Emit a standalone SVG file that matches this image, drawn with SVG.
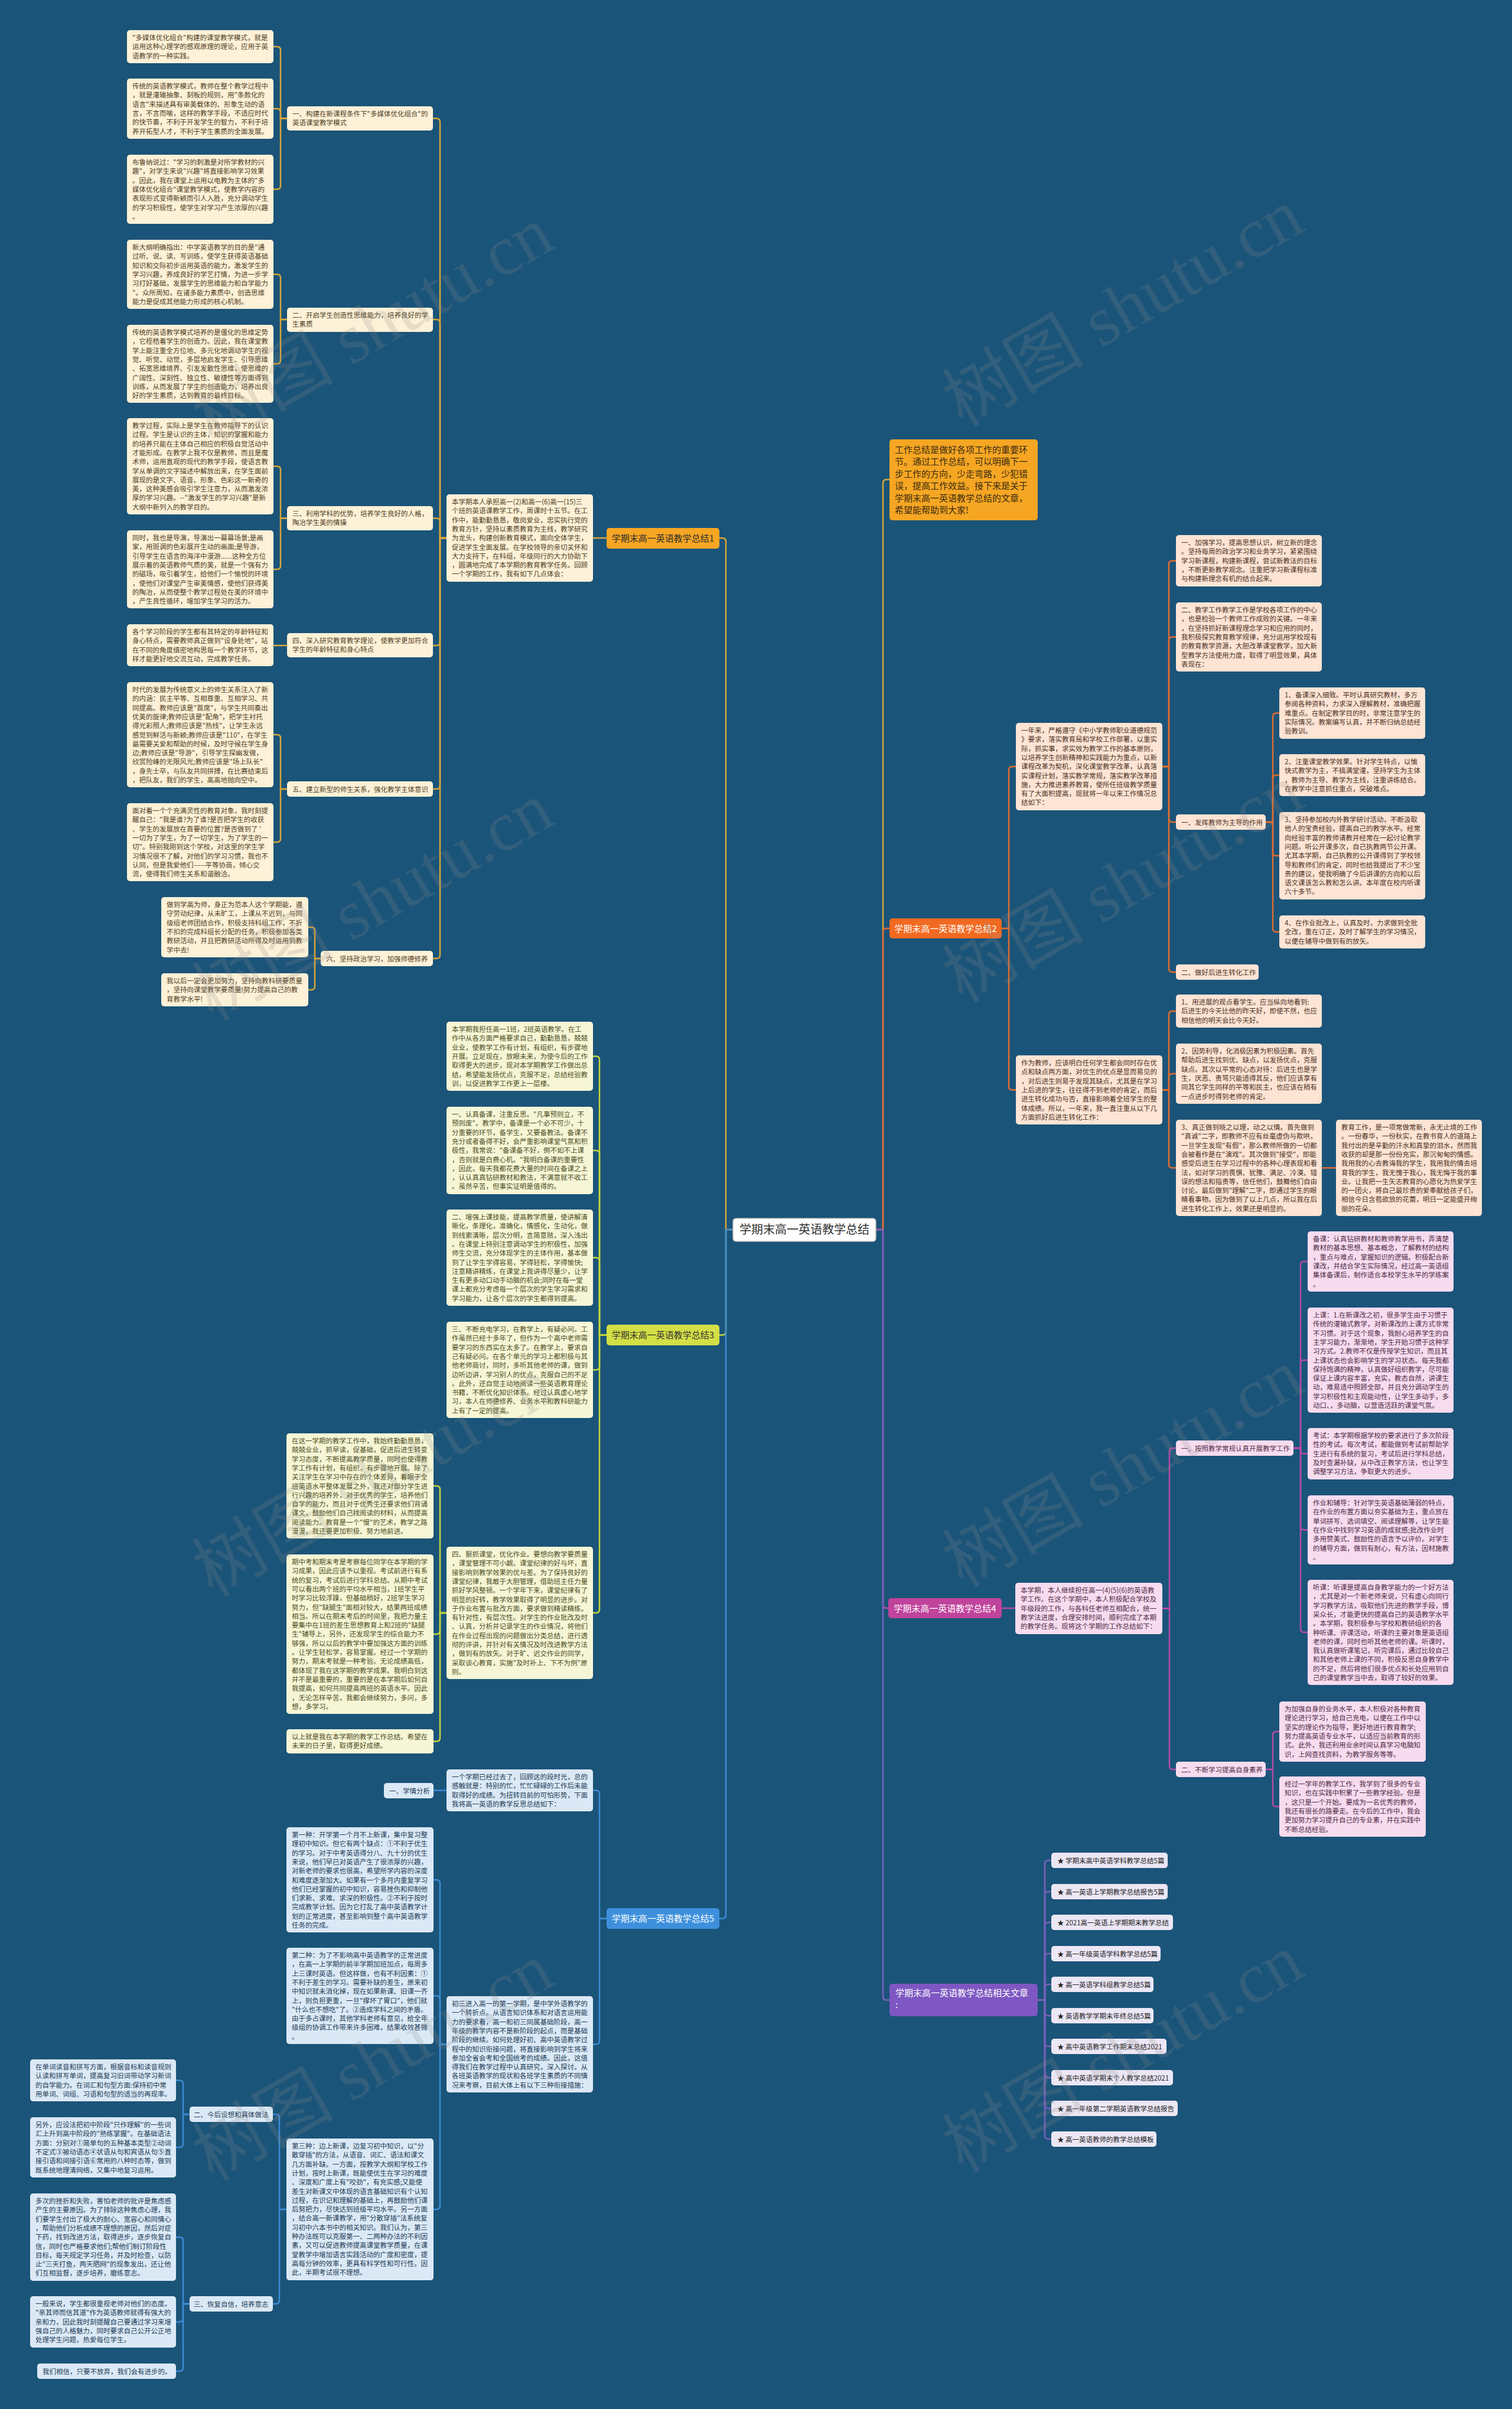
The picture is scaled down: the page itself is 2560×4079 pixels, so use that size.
<svg xmlns="http://www.w3.org/2000/svg" width="2560" height="4079" viewBox="0 0 2560 4079">
<style>
text{font-family:"Noto Sans CJK SC","Noto Sans",sans-serif;}
.s{font-size:11.5px}
.L{font-size:15px}
rect{rx:5px}
.cn path{fill:none;stroke-width:2.5;stroke-linecap:round}
.k1 path{stroke:#d9a638}.k2 path{stroke:#e26c30}.k3 path{stroke:#c4d83c}.k4 path{stroke:#b44ca6}.k5 path{stroke:#3d8bd6}.k6 path{stroke:#7b61bd}
.f1 rect{fill:#fdf1d7}.f1 text{fill:#51401f}
.f2 rect{fill:#fde4d4}.f2 text{fill:#4c3124}
.f3 rect{fill:#f6f6d6}.f3 text{fill:#4d4d22}
.f4 rect{fill:#f7dcef}.f4 text{fill:#4f2a45}
.f5 rect{fill:#dbe9f6}.f5 text{fill:#213b55}
.f6 rect{fill:#ece7f5}.f6 text{fill:#222}
.wm{font-family:"Liberation Serif","Noto Sans CJK SC",serif;font-size:120px;fill:#8c8c8c;opacity:0.2}
</style>
<rect x="0" y="0" width="2560" height="4079" fill="#1b5479" style="rx:0"/>

<g id="connectors" class="cn">
<g class="k1">
<path d="M1241 2082 H1229 V917 Q1229 911 1223 911 H1218"/>
<path d="M1027 911 H1004"/>
<path d="M756 911 H745 V206.5 Q745 200.5 739 200.5 H733"/>
<path d="M756 911 H745 V547 Q745 541 739 541 H733"/>
<path d="M756 911 H745 V883.5 Q745 877.5 739 877.5 H733"/>
<path d="M756 911 H745 V1087 Q745 1093 739 1093 H733"/>
<path d="M756 911 H745 V1330 Q745 1336 739 1336 H733"/>
<path d="M756 911 H745 V1617 Q745 1623 739 1623 H733"/>
<path d="M486 200.5 H475 V85 Q475 79 469 79 H463"/>
<path d="M486 200.5 H475 V190 Q475 184 469 184 H463"/>
<path d="M486 200.5 H475 V314.5 Q475 320.5 469 320.5 H463"/>
<path d="M486 541 H475 V470.5 Q475 464.5 469 464.5 H463"/>
<path d="M486 541 H475 V610 Q475 616 469 616 H463"/>
<path d="M486 877.5 H475 V795.5 Q475 789.5 469 789.5 H463"/>
<path d="M486 877.5 H475 V958 Q475 964 469 964 H463"/>
<path d="M486 1093 H463"/>
<path d="M486 1336 H475 V1250 Q475 1244 469 1244 H463"/>
<path d="M486 1336 H475 V1420 Q475 1426 469 1426 H463"/>
<path d="M543 1623 H533 V1576 Q533 1570 527 1570 H522"/>
<path d="M543 1623 H533 V1670 Q533 1676 527 1676 H522"/>
<path d="M1483 2082 H1495 V818 Q1495 812 1501 812 H1506"/>
</g>
<g class="k3">
<path d="M1241 2082 H1229 V2254.5 Q1229 2260.5 1223 2260.5 H1218"/>
<path d="M1027 2260.5 H1015 V1794.5 Q1015 1788.5 1009 1788.5 H1004"/>
<path d="M1027 2260.5 H1015 V1954 Q1015 1948 1009 1948 H1004"/>
<path d="M1027 2260.5 H1015 V2135.5 Q1015 2129.5 1009 2129.5 H1004"/>
<path d="M1027 2260.5 H1015 V2313.5 Q1015 2319.5 1009 2319.5 H1004"/>
<path d="M1027 2260.5 H1015 V2725 Q1015 2731 1009 2731 H1004"/>
<path d="M756 2731 H745 V2522 Q745 2516 739 2516 H734"/>
<path d="M756 2731 H745 V2761 Q745 2767 739 2767 H734"/>
<path d="M756 2731 H745 V2942.5 Q745 2948.5 739 2948.5 H734"/>
</g>
<g class="k5">
<path d="M1241 2082 H1229 V3242.5 Q1229 3248.5 1223 3248.5 H1218"/>
<path d="M1027 3248.5 H1015 V3037.5 Q1015 3031.5 1009 3031.5 H1004"/>
<path d="M1027 3248.5 H1015 V3455.5 Q1015 3461.5 1009 3461.5 H1004"/>
<path d="M756 3031.5 H734"/>
<path d="M756 3461.5 H745 V3189 Q745 3183 739 3183 H734"/>
<path d="M756 3461.5 H745 V3385.5 Q745 3379.5 739 3379.5 H734"/>
<path d="M756 3461.5 H745 V3735 Q745 3741 739 3741 H734"/>
<path d="M485 3741 H473 V3586 Q473 3580 467 3580 H462"/>
<path d="M485 3741 H473 V3895 Q473 3901 467 3901 H462"/>
<path d="M321 3580 H310 V3528.5 Q310 3522.5 304 3522.5 H298"/>
<path d="M321 3580 H310 V3630 Q310 3636 304 3636 H298"/>
<path d="M321 3901 H310 V3794 Q310 3788 304 3788 H298"/>
<path d="M321 3901 H310 V3925.5 Q310 3931.5 304 3931.5 H298"/>
<path d="M321 3901 H310 V4009 Q310 4015 304 4015 H298"/>
</g>
<g class="k2">
<path d="M1483 2082 H1495 V1578 Q1495 1572 1501 1572 H1506"/>
<path d="M1696 1572 H1708 V1304 Q1708 1298 1714 1298 H1720"/>
<path d="M1696 1572 H1708 V1839.5 Q1708 1845.5 1714 1845.5 H1720"/>
<path d="M1968 1298 H1979 V955.5 Q1979 949.5 1985 949.5 H1991"/>
<path d="M1968 1298 H1979 V1084.5 Q1979 1078.5 1985 1078.5 H1991"/>
<path d="M1968 1298 H1979 V1386 Q1979 1392 1985 1392 H1991"/>
<path d="M1968 1298 H1979 V1640 Q1979 1646 1985 1646 H1991"/>
<path d="M2143 1392 H2155 V1213.5 Q2155 1207.5 2161 1207.5 H2166"/>
<path d="M2143 1392 H2155 V1318.5 Q2155 1312.5 2161 1312.5 H2166"/>
<path d="M2143 1392 H2155 V1443 Q2155 1449 2161 1449 H2166"/>
<path d="M2143 1392 H2155 V1572 Q2155 1578 2161 1578 H2166"/>
<path d="M1968 1845.5 H1979 V1718 Q1979 1712 1985 1712 H1991"/>
<path d="M1968 1845.5 H1979 V1824 Q1979 1818 1985 1818 H1991"/>
<path d="M1968 1845.5 H1979 V1971.5 Q1979 1977.5 1985 1977.5 H1991"/>
<path d="M2238 1977.5 H2262"/>
</g>
<g class="k4">
<path d="M1483 2082 H1495 V2717 Q1495 2723 1501 2723 H1504"/>
<path d="M1696 2723 H1719"/>
<path d="M1968 2723.5 H1980 V2458 Q1980 2452 1986 2452 H1991"/>
<path d="M1968 2723.5 H1980 V2990 Q1980 2996 1986 2996 H1991"/>
<path d="M2190 2452 H2202 V2142 Q2202 2136 2208 2136 H2214"/>
<path d="M2190 2452 H2202 V2309 Q2202 2303 2208 2303 H2214"/>
<path d="M2190 2452 H2202 V2455.5 Q2202 2461.5 2208 2461.5 H2214"/>
<path d="M2190 2452 H2202 V2584.5 Q2202 2590.5 2208 2590.5 H2214"/>
<path d="M2190 2452 H2202 V2758 Q2202 2764 2208 2764 H2214"/>
<path d="M2143 2996 H2155 V2938 Q2155 2932 2161 2932 H2166"/>
<path d="M2143 2996 H2155 V3053 Q2155 3059 2161 3059 H2166"/>
</g>
<g class="k6">
<path d="M1483 2082 H1495 V3380.5 Q1495 3386.5 1501 3386.5 H1506"/>
<path d="M1757 3386.5 H1769 V3156 Q1769 3150 1775 3150 H1780"/>
<path d="M1757 3386.5 H1769 V3209 Q1769 3203 1775 3203 H1780"/>
<path d="M1757 3386.5 H1769 V3261 Q1769 3255 1775 3255 H1780"/>
<path d="M1757 3386.5 H1769 V3314 Q1769 3308 1775 3308 H1780"/>
<path d="M1757 3386.5 H1769 V3366 Q1769 3360 1775 3360 H1780"/>
<path d="M1757 3386.5 H1769 V3407 Q1769 3413 1775 3413 H1780"/>
<path d="M1757 3386.5 H1769 V3459 Q1769 3465 1775 3465 H1780"/>
<path d="M1757 3386.5 H1769 V3512 Q1769 3518 1775 3518 H1780"/>
<path d="M1757 3386.5 H1769 V3564 Q1769 3570 1775 3570 H1780"/>
<path d="M1757 3386.5 H1769 V3616 Q1769 3622 1775 3622 H1780"/>
</g>
</g>

<g id="center"><rect x="1241" y="2063" width="242" height="39" fill="#ffffff" stroke="#b9b9b9" stroke-width="1.5"/><text x="1362" y="2089" text-anchor="middle" style="font-size:20px" fill="#333">学期末高一英语教学总结</text></g>

<g id="intro"><rect x="1506" y="744" width="251" height="137" fill="#f6a623"/><text x="1515" y="767" class="L" fill="#3a2a10"><tspan x="1515">工作总结是做好各项工作的重要环</tspan><tspan x="1515" dy="20.4">节。通过工作总结，可以明确下一</tspan><tspan x="1515" dy="20.4">步工作的方向，少走弯路，少犯错</tspan><tspan x="1515" dy="20.4">误，提高工作效益。接下来是关于</tspan><tspan x="1515" dy="20.4">学期末高一英语教学总结的文章，</tspan><tspan x="1515" dy="20.4">希望能帮助到大家!</tspan></text></g>

<!-- Branch 1 -->
<g id="branch1"><rect x="1027" y="894" width="191" height="35" fill="#f6a623"/><text x="1122.5" y="917" class="L" text-anchor="middle" fill="#2b2b2b">学期末高一英语教学总结1</text></g>
<g id="b1-intro" class="f1"><rect x="756" y="837" width="248" height="148"/><text x="765" y="854" class="s"><tspan x="765">本学期本人承担高一(2)和高一(6)高一(15)三</tspan><tspan x="765" dy="15.3">个班的英语课教学工作，周课时十五节。在工</tspan><tspan x="765" dy="15.3">作中，能勤勤恳恳，敬岗爱业，忠实执行党的</tspan><tspan x="765" dy="15.3">教育方针，坚持以素质教育为主线，教学研究</tspan><tspan x="765" dy="15.3">为龙头，构建创新教育模式，面向全体学生，</tspan><tspan x="765" dy="15.3">促进学生全面发展。在学校领导的亲切关怀和</tspan><tspan x="765" dy="15.3">大力支持下，在科组，年级同行的大力协助下</tspan><tspan x="765" dy="15.3">，圆满地完成了本学期的教育教学任务。回顾</tspan><tspan x="765" dy="15.3">一个学期的工作，我有如下几点体会：</tspan></text></g>
<g id="b1-s1" class="f1"><rect x="486" y="180" width="247" height="41"/><text x="495" y="197" class="s"><tspan x="495">一、构建在新课程条件下"多媒体优化组合"的</tspan><tspan x="495" dy="15.3">英语课堂教学模式</tspan></text></g>
<g id="b1-s2" class="f1"><rect x="486" y="521" width="247" height="41"/><text x="495" y="538" class="s"><tspan x="495">二、开启学生创造性思维能力，培养良好的学</tspan><tspan x="495" dy="15.3">生素质</tspan></text></g>
<g id="b1-s3" class="f1"><rect x="486" y="857" width="247" height="41"/><text x="495" y="874" class="s"><tspan x="495">三、利用学科的优势，培养学生良好的人格，</tspan><tspan x="495" dy="15.3">陶冶学生美的情操</tspan></text></g>
<g id="b1-s4" class="f1"><rect x="486" y="1072" width="247" height="41"/><text x="495" y="1089" class="s"><tspan x="495">四、深入研究教育教学理论，使教学更加符合</tspan><tspan x="495" dy="15.3">学生的年龄特征和身心特点</tspan></text></g>
<g id="b1-s5" class="f1"><rect x="486" y="1323" width="247" height="26"/><text x="495" y="1340.5" class="s">五、建立新型的师生关系，强化教学主体意识</text></g>
<g id="b1-s6" class="f1"><rect x="543" y="1610" width="190" height="26"/><text x="552" y="1627.5" class="s">六、坚持政治学习，加强师德修养</text></g>
<g id="b1-l1" class="f1"><rect x="215" y="51" width="248" height="56"/><text x="224" y="68" class="s"><tspan x="224">"多媒体优化组合"构建的课堂教学模式，就是</tspan><tspan x="224" dy="15.3">运用这种心理学的感观原理的理论，应用于英</tspan><tspan x="224" dy="15.3">语教学的一种实践。</tspan></text></g>
<g id="b1-l2" class="f1"><rect x="215" y="133" width="248" height="102"/><text x="224" y="150" class="s"><tspan x="224">传统的英语教学模式，教师在整个教学过程中</tspan><tspan x="224" dy="15.3">，就是灌输抽象、刻板的规则，用"条款化的</tspan><tspan x="224" dy="15.3">语言"来描述具有审美载体的、形象生动的语</tspan><tspan x="224" dy="15.3">言，不言而喻，这样的教学手段，不适应时代</tspan><tspan x="224" dy="15.3">的快节奏，不利于开发学生的智力，不利于培</tspan><tspan x="224" dy="15.3">养开拓型人才，不利于学生素质的全面发展。</tspan></text></g>
<g id="b1-l3" class="f1"><rect x="215" y="262" width="248" height="117"/><text x="224" y="279" class="s"><tspan x="224">布鲁纳说过："学习的刺激是对所学教材的兴</tspan><tspan x="224" dy="15.3">趣"，对学生来说"兴趣"将直接影响学习效果</tspan><tspan x="224" dy="15.3">。因此，我在课堂上运用以电教为主体的"多</tspan><tspan x="224" dy="15.3">媒体优化组合"课堂教学模式，使教学内容的</tspan><tspan x="224" dy="15.3">表现形式变得新颖而引人入胜，充分调动学生</tspan><tspan x="224" dy="15.3">的学习积极性，使学生对学习产生浓厚的兴趣</tspan><tspan x="224" dy="15.3">。</tspan></text></g>
<g id="b1-l4" class="f1"><rect x="215" y="406" width="248" height="117"/><text x="224" y="423" class="s"><tspan x="224">新大纲明确指出：中学英语教学的目的是"通</tspan><tspan x="224" dy="15.3">过听、说、读、写训练，使学生获得英语基础</tspan><tspan x="224" dy="15.3">知识和交际初步运用英语的能力，激发学生的</tspan><tspan x="224" dy="15.3">学习兴趣，养成良好的学艺打情，为进一步学</tspan><tspan x="224" dy="15.3">习打好基础，发展学生的思维能力和自学能力</tspan><tspan x="224" dy="15.3">"。众所周知，在诸多能力素质中，创造思维</tspan><tspan x="224" dy="15.3">能力是促成其他能力形成的核心机制。</tspan></text></g>
<g id="b1-l5" class="f1"><rect x="215" y="550" width="248" height="132"/><text x="224" y="567" class="s"><tspan x="224">传统的英语教学模式培养的是僵化的思维定势</tspan><tspan x="224" dy="15.3">，它桎梏着学生的创造力。因此，我在课堂教</tspan><tspan x="224" dy="15.3">学上能注重全方位地、多元化地调动学生的视</tspan><tspan x="224" dy="15.3">觉、听觉、动觉，多层地启发学生、引导思维</tspan><tspan x="224" dy="15.3">、拓宽思维境界、引发发散性思维，使思维的</tspan><tspan x="224" dy="15.3">广阔性、深刻性、独立性、敏捷性等方面得到</tspan><tspan x="224" dy="15.3">训练，从而发展了学生的创造能力，培养出良</tspan><tspan x="224" dy="15.3">好的学生素质，达到教育的最终目标。</tspan></text></g>
<g id="b1-l6" class="f1"><rect x="215" y="708" width="248" height="163"/><text x="224" y="725" class="s"><tspan x="224">教学过程，实际上是学生在教师指导下的认识</tspan><tspan x="224" dy="15.3">过程。学生是认识的主体，知识的掌握和能力</tspan><tspan x="224" dy="15.3">的培养只能在主体自己相应的积极自觉活动中</tspan><tspan x="224" dy="15.3">才能形成。在教学上我不仅是教师，而且是魔</tspan><tspan x="224" dy="15.3">术师，运用直观的现代的教学手段，使语言教</tspan><tspan x="224" dy="15.3">学从单调的文字描述中解放出来，在学生面前</tspan><tspan x="224" dy="15.3">展现的是文字、语音、形象、色彩这一新奇的</tspan><tspan x="224" dy="15.3">美，这种美感会吸引学生注意力，从而激发浓</tspan><tspan x="224" dy="15.3">厚的学习兴趣。--"激发学生的学习兴趣"是新</tspan><tspan x="224" dy="15.3">大纲中新列入的教学目的。</tspan></text></g>
<g id="b1-l7" class="f1"><rect x="215" y="898" width="248" height="132"/><text x="224" y="915" class="s"><tspan x="224">同时，我也是导演，导演出一幕幕场景;是画</tspan><tspan x="224" dy="15.3">家，用斑调的色彩展开生动的画面;是导游，</tspan><tspan x="224" dy="15.3">引导学生在语言的海洋中漫游......这种全方位</tspan><tspan x="224" dy="15.3">展示着的英语教师气质的美，就是一个强有力</tspan><tspan x="224" dy="15.3">的磁场，吸引着学生，给他们一个愉悦的环境</tspan><tspan x="224" dy="15.3">，使他们对课堂产生审美情感，使他们获得美</tspan><tspan x="224" dy="15.3">的陶冶，从而使整个教学过程处在美的环境中</tspan><tspan x="224" dy="15.3">，产生良性循环，增加学生学习的活力。</tspan></text></g>
<g id="b1-l8" class="f1"><rect x="215" y="1057" width="248" height="71"/><text x="224" y="1074" class="s"><tspan x="224">各个学习阶段的学生都有其特定的年龄特征和</tspan><tspan x="224" dy="15.3">身心特点，需要教师真正做到"设身处地"，站</tspan><tspan x="224" dy="15.3">在不同的角度缜密地构思每一个教学环节，这</tspan><tspan x="224" dy="15.3">样才能更好地交流互动，完成教学任务。</tspan></text></g>
<g id="b1-l9" class="f1"><rect x="215" y="1155" width="248" height="178"/><text x="224" y="1172" class="s"><tspan x="224">时代的发展为传统意义上的师生关系注入了新</tspan><tspan x="224" dy="15.3">的内涵：民主平等、互相尊重、互相学习、共</tspan><tspan x="224" dy="15.3">同提高。教师应该是"首席"，与学生共同奏出</tspan><tspan x="224" dy="15.3">优美的旋律;教师应该是"配角"，把学生衬托</tspan><tspan x="224" dy="15.3">得光彩照人;教师应该是"热线"，让学生永远</tspan><tspan x="224" dy="15.3">感觉到鲜活与新颖;教师应该是"110"，在学生</tspan><tspan x="224" dy="15.3">最需要关爱和帮助的时候，及时守候在学生身</tspan><tspan x="224" dy="15.3">边;教师应该是"导游"，引导学生探幽发微，</tspan><tspan x="224" dy="15.3">欣赏险峰的无限风光;教师应该是"场上队长"</tspan><tspan x="224" dy="15.3">，身先士卒，与队友共同拼搏，在比赛结束后</tspan><tspan x="224" dy="15.3">，把队友，我们的学生，高高地抛向空中。</tspan></text></g>
<g id="b1-l10" class="f1"><rect x="215" y="1360" width="248" height="132"/><text x="224" y="1377" class="s"><tspan x="224">面对着一个个充满灵性的教育对象，我时刻提</tspan><tspan x="224" dy="15.3">醒自己："我是谁?为了谁?是否把学生的收获</tspan><tspan x="224" dy="15.3">、学生的发展放在首要的位置?是否做到了 '</tspan><tspan x="224" dy="15.3">一切为了学生，为了一切学生，为了学生的一</tspan><tspan x="224" dy="15.3">切"。特别我刚到这个学校，对这里的学生学</tspan><tspan x="224" dy="15.3">习情况很不了解，对他们的学习习惯，我也不</tspan><tspan x="224" dy="15.3">认同，但是我爱他们-----平等协商，倾心交</tspan><tspan x="224" dy="15.3">流，使得我们师生关系和谐融洽。</tspan></text></g>
<g id="b1-l11" class="f1"><rect x="273" y="1519" width="249" height="102"/><text x="282" y="1536" class="s"><tspan x="282">做到学高为师，身正为范本人这个学期能，遵</tspan><tspan x="282" dy="15.3">守劳动纪律，从未旷工，上课从不迟到，与同</tspan><tspan x="282" dy="15.3">级组老师团结合作，积极支持科组工作，不折</tspan><tspan x="282" dy="15.3">不扣的完成科组长分配的任务，积极参加各类</tspan><tspan x="282" dy="15.3">教研活动，并且把教研活动所得及时运用到教</tspan><tspan x="282" dy="15.3">学中去!</tspan></text></g>
<g id="b1-l12" class="f1"><rect x="273" y="1648" width="249" height="56"/><text x="282" y="1665" class="s"><tspan x="282">我以后一定会更加努力，坚持向教科研要质量</tspan><tspan x="282" dy="15.3">，坚持向课堂教学要质量!努力提高自己的教</tspan><tspan x="282" dy="15.3">育教学水平!</tspan></text></g>

<!-- Branch 3 -->
<g id="branch3"><rect x="1027" y="2243" width="191" height="35" fill="#d3df45"/><text x="1122.5" y="2266" class="L" text-anchor="middle" fill="#333">学期末高一英语教学总结3</text></g>
<g id="b3-t1" class="f3"><rect x="756" y="1730" width="248" height="117"/><text x="765" y="1747" class="s"><tspan x="765">本学期我担任高一1班，2班英语教学。在工</tspan><tspan x="765" dy="15.3">作中从各方面严格要求自己，勤勤恳恳，兢兢</tspan><tspan x="765" dy="15.3">业业，使教学工作有计划，有组织，有步骤地</tspan><tspan x="765" dy="15.3">开展。立足现在，放眼未来，为使今后的工作</tspan><tspan x="765" dy="15.3">取得更大的进步，现对本学期教学工作做出总</tspan><tspan x="765" dy="15.3">结，希望能发扬优点，克服不足，总结经验教</tspan><tspan x="765" dy="15.3">训，以促进教学工作更上一层楼。</tspan></text></g>
<g id="b3-t2" class="f3"><rect x="756" y="1874" width="248" height="148"/><text x="765" y="1891" class="s"><tspan x="765">一、认真备课，注重反思。"凡事预则立，不</tspan><tspan x="765" dy="15.3">预则废"。教学中，备课是一个必不可少，十</tspan><tspan x="765" dy="15.3">分重要的环节，备学生，又要备教法。备课不</tspan><tspan x="765" dy="15.3">充分或者备得不好，会严重影响课堂气氛和积</tspan><tspan x="765" dy="15.3">极性，我常说："备课备不好，倒不如不上课</tspan><tspan x="765" dy="15.3">，否则就是白费心机。"我明白备课的重要性</tspan><tspan x="765" dy="15.3">，因此，每天我都花费大量的时间在备课之上</tspan><tspan x="765" dy="15.3">，认认真真钻研教材和教法，不满意就不收工</tspan><tspan x="765" dy="15.3">。虽然辛苦，但事实证明是值得的。</tspan></text></g>
<g id="b3-t3" class="f3"><rect x="756" y="2048" width="248" height="163"/><text x="765" y="2065" class="s"><tspan x="765">二、增强上课技能，提高教学质量，使讲解清</tspan><tspan x="765" dy="15.3">晰化，条理化，准确化，情感化，生动化，做</tspan><tspan x="765" dy="15.3">到线索清晰，层次分明，言简意赅，深入浅出</tspan><tspan x="765" dy="15.3">。在课堂上特别注意调动学生的积极性，加强</tspan><tspan x="765" dy="15.3">师生交流，充分体现学生的主体作用，基本做</tspan><tspan x="765" dy="15.3">到了让学生学得容易，学得轻松，学得愉快;</tspan><tspan x="765" dy="15.3">注意精讲精练，在课堂上我讲得尽量少，让学</tspan><tspan x="765" dy="15.3">生有更多动口动手动脑的机会;同时在每一堂</tspan><tspan x="765" dy="15.3">课上都充分考虑每一个层次的学生学习需求和</tspan><tspan x="765" dy="15.3">学习能力，让各个层次的学生都得到提高。</tspan></text></g>
<g id="b3-t4" class="f3"><rect x="756" y="2238" width="248" height="163"/><text x="765" y="2255" class="s"><tspan x="765">三、不断充电学习，在教学上，有疑必问。工</tspan><tspan x="765" dy="15.3">作虽然已经十多年了，但作为一个高中老师需</tspan><tspan x="765" dy="15.3">要学习的东西实在太多了。在教学上，要求自</tspan><tspan x="765" dy="15.3">己有疑必问。在各个单元的学习上都积极与其</tspan><tspan x="765" dy="15.3">他老师商讨，同时，多听其他老师的课，做到</tspan><tspan x="765" dy="15.3">边听边讲，学习别人的优点，克服自己的不足</tspan><tspan x="765" dy="15.3">。此外，还自觉主动地阅读一些英语教育理论</tspan><tspan x="765" dy="15.3">书籍，不断优化知识体系。经过认真虚心地学</tspan><tspan x="765" dy="15.3">习，本人在师德修养、业务水平和教科研能力</tspan><tspan x="765" dy="15.3">上有了一定的提高。</tspan></text></g>
<g id="b3-t5" class="f3"><rect x="756" y="2619" width="248" height="224"/><text x="765" y="2636" class="s"><tspan x="765">四、狠抓课堂，优化作业。要想向教学要质量</tspan><tspan x="765" dy="15.3">，课堂管理不可小觑。课堂纪律的好与坏，直</tspan><tspan x="765" dy="15.3">接影响到教学效果的优与差。为了保持良好的</tspan><tspan x="765" dy="15.3">课堂纪律，我敢于大胆管理，借助班主任力量</tspan><tspan x="765" dy="15.3">抓好学风整顿。一个学年下来，课堂纪律有了</tspan><tspan x="765" dy="15.3">明显的好转，教学效果取得了明显的进步。对</tspan><tspan x="765" dy="15.3">于作业布置与批改方面，要求做到精读精练。</tspan><tspan x="765" dy="15.3">有针对性，有层次性。对学生的作业批改及时</tspan><tspan x="765" dy="15.3">、认真，分析并记录学生的作业情况，将他们</tspan><tspan x="765" dy="15.3">在作业过程出现的问题做出分类总结，进行透</tspan><tspan x="765" dy="15.3">彻的评讲，并针对有关情况及时改进教学方法</tspan><tspan x="765" dy="15.3">，做到有的放矢。对于旷、迟交作业的同学，</tspan><tspan x="765" dy="15.3">采取谈心教育，实施"及时补上、下不为例"原</tspan><tspan x="765" dy="15.3">则。</tspan></text></g>
<g id="b3-t6" class="f3"><rect x="485" y="2427" width="249" height="178"/><text x="494" y="2444" class="s"><tspan x="494">在这一学期的教学工作中，我始终勤勤恳恳，</tspan><tspan x="494" dy="15.3">兢兢业业，抓早读，促基础，促进后进生转变</tspan><tspan x="494" dy="15.3">学习态度，不断提高教学质量，同时也使得教</tspan><tspan x="494" dy="15.3">学工作有计划，有组织，有步骤地开展。除了</tspan><tspan x="494" dy="15.3">关注学生在学习中存在的个体差异，着眼于全</tspan><tspan x="494" dy="15.3">班英语水平整体发展之外，我还对部分学生进</tspan><tspan x="494" dy="15.3">行兴趣的培养外，对于优秀的学生，培养他们</tspan><tspan x="494" dy="15.3">自学的能力，而且对于优秀生还要求他们背诵</tspan><tspan x="494" dy="15.3">课文，鼓励他们自己找阅读的材料，从而提高</tspan><tspan x="494" dy="15.3">阅读能力。教育是一个"慢"的艺术，教学之路</tspan><tspan x="494" dy="15.3">漫漫，我还要更加积极、努力地前进。</tspan></text></g>
<g id="b3-t7" class="f3"><rect x="485" y="2632" width="249" height="270"/><text x="494" y="2649" class="s"><tspan x="494">期中考和期末考是考察每位同学在本学期的学</tspan><tspan x="494" dy="15.3">习成果，因此应该予以重视。考试前进行有系</tspan><tspan x="494" dy="15.3">统的复习，考试后进行学科总结。从期中考试</tspan><tspan x="494" dy="15.3">可以看出两个班的平均水平相当，1班学生平</tspan><tspan x="494" dy="15.3">时学习比较浮躁，但基础稍好，2班学生学习</tspan><tspan x="494" dy="15.3">努力，但"缺腿生"面相对较大，结果两班成绩</tspan><tspan x="494" dy="15.3">相当。所以在期末考后的时间里，我把力量主</tspan><tspan x="494" dy="15.3">要集中在1班的差生思想教育上和2班的"缺腿</tspan><tspan x="494" dy="15.3">生"辅导上，另外，还发现学生的综合能力不</tspan><tspan x="494" dy="15.3">够强，所以以后的教学中要加强这方面的训练</tspan><tspan x="494" dy="15.3">。让学生轻松学，容易掌握。经过一个学期的</tspan><tspan x="494" dy="15.3">努力，期末考就是一种考验。无论成绩高低，</tspan><tspan x="494" dy="15.3">都体现了我在这学期的教学成果。我明白到这</tspan><tspan x="494" dy="15.3">并不是最重要的，重要的是在本学期后如何自</tspan><tspan x="494" dy="15.3">我提高，如何共同提高两班的英语水平。因此</tspan><tspan x="494" dy="15.3">，无论怎样辛苦，我都会继续努力，多问，多</tspan><tspan x="494" dy="15.3">想，多学习。</tspan></text></g>
<g id="b3-t8" class="f3"><rect x="485" y="2928" width="249" height="41"/><text x="494" y="2945" class="s"><tspan x="494">以上就是我在本学期的教学工作总结。希望在</tspan><tspan x="494" dy="15.3">未来的日子里，取得更好成绩。</tspan></text></g>

<!-- Branch 5 -->
<g id="branch5"><rect x="1027" y="3231" width="191" height="35" fill="#3e90dc"/><text x="1122.5" y="3254" class="L" text-anchor="middle" fill="#fff">学期末高一英语教学总结5</text></g>
<g id="b5-a" class="f5"><rect x="756" y="2996" width="248" height="71"/><text x="765" y="3013" class="s"><tspan x="765">一个学期已经过去了，回顾这的段时光，总的</tspan><tspan x="765" dy="15.3">感触就是：特别的忙，忙忙碌碌的工作后未能</tspan><tspan x="765" dy="15.3">取得好的成绩。为扭转目前的可怕形势，下面</tspan><tspan x="765" dy="15.3">我将高一英语的教学反思总结如下：</tspan></text></g>
<g id="b5-s1" class="f5"><rect x="650" y="3019" width="84" height="26"/><text x="659" y="3036.5" class="s">一、学情分析</text></g>
<g id="b5-b" class="f5"><rect x="756" y="3380" width="248" height="163"/><text x="765" y="3397" class="s"><tspan x="765">初三进入高一的第一学期，是中学外语教学的</tspan><tspan x="765" dy="15.3">一个转折点。从语言知识体系和对语言运用能</tspan><tspan x="765" dy="15.3">力的要求看，高一和初三同属基础阶段，高一</tspan><tspan x="765" dy="15.3">年级的教学内容不是新阶段的起点，而是基础</tspan><tspan x="765" dy="15.3">阶段的继续。如何处理好初、高中英语教学过</tspan><tspan x="765" dy="15.3">程中的知识衔接问题，将直接影响到学生将来</tspan><tspan x="765" dy="15.3">参加全省会考和全国统考的成绩。因此，这值</tspan><tspan x="765" dy="15.3">得我们在教学过程中认真研究，深入探讨。从</tspan><tspan x="765" dy="15.3">各班英语教学的现状和各班学生素质的不同情</tspan><tspan x="765" dy="15.3">况来考察，目前大体上有以下三种衔接措施：</tspan></text></g>
<g id="b5-c1" class="f5"><rect x="485" y="3094" width="249" height="178"/><text x="494" y="3111" class="s"><tspan x="494">第一种：开学第一个月不上新课，集中复习整</tspan><tspan x="494" dy="15.3">理初中知识。但它有两个缺点：①不利于优生</tspan><tspan x="494" dy="15.3">的学习。对于中考英语得分八、九十分的优生</tspan><tspan x="494" dy="15.3">来说，他们早已对英语产生了很浓厚的兴趣，</tspan><tspan x="494" dy="15.3">对新老师的要求也很高，希望所学内容的深度</tspan><tspan x="494" dy="15.3">和难度逐渐加大。如果有一个多月内重复学习</tspan><tspan x="494" dy="15.3">他们已经掌握的初中知识，容易挫伤和抑制他</tspan><tspan x="494" dy="15.3">们求新、求难、求深的积极性。②不利于按时</tspan><tspan x="494" dy="15.3">完成教学计划。因为它打乱了高中英语教学计</tspan><tspan x="494" dy="15.3">划的正常进度，甚至影响到整个高中英语教学</tspan><tspan x="494" dy="15.3">任务的完成。</tspan></text></g>
<g id="b5-c2" class="f5"><rect x="485" y="3298" width="249" height="163"/><text x="494" y="3315" class="s"><tspan x="494">第二种：为了不影响高中英语教学的正常进度</tspan><tspan x="494" dy="15.3">，在高一上学期的前半学期加班加点，每周多</tspan><tspan x="494" dy="15.3">上三课时英语。但这样做，也有不利因素：①</tspan><tspan x="494" dy="15.3">不利于差生的学习。需要补缺的差生，原来初</tspan><tspan x="494" dy="15.3">中知识就未消化掉，现在如果新课、旧课一齐</tspan><tspan x="494" dy="15.3">上，则负担更重，一旦"撑坏了胃口"，他们就</tspan><tspan x="494" dy="15.3">"什么也不想吃"了。②造成学科之间的矛盾。</tspan><tspan x="494" dy="15.3">由于多占课时，其他学科老师有意见，给全年</tspan><tspan x="494" dy="15.3">级组的协调工作带来许多困难，结果收效甚微</tspan><tspan x="494" dy="15.3">。</tspan></text></g>
<g id="b5-c3" class="f5"><rect x="485" y="3621" width="249" height="240"/><text x="494" y="3638" class="s"><tspan x="494">第三种：边上新课，边复习初中知识，以"分</tspan><tspan x="494" dy="15.3">散穿插"的方法，从语音、词汇、语法和课文</tspan><tspan x="494" dy="15.3">几方面补缺。一方面，按教学大纲和学校工作</tspan><tspan x="494" dy="15.3">计划，按时上新课，既能使优生在学习的难度</tspan><tspan x="494" dy="15.3">、深度和广度上有"咬劲"，有充实感;又能使</tspan><tspan x="494" dy="15.3">差生对新课文中体现的语言基础知识有个认知</tspan><tspan x="494" dy="15.3">过程，在识记和理解的基础上，再鼓励他们课</tspan><tspan x="494" dy="15.3">后努把力，尽快达到班级平均水平。另一方面</tspan><tspan x="494" dy="15.3">，结合高一新课教学，用"分散穿插"法系统复</tspan><tspan x="494" dy="15.3">习初中六本书中的相关知识。我们认为，第三</tspan><tspan x="494" dy="15.3">种办法既可以克服第一、二两种办法的不利因</tspan><tspan x="494" dy="15.3">素，又可以促进教师提高课堂教学质量，在课</tspan><tspan x="494" dy="15.3">堂教学中增加语言实践活动的广度和密度，提</tspan><tspan x="494" dy="15.3">高每分钟的效率，更具有科学性和可行性。因</tspan><tspan x="494" dy="15.3">此，半期考试很不理想。</tspan></text></g>
<g id="b5-s2" class="f5"><rect x="321" y="3567" width="141" height="26"/><text x="328" y="3584.5" class="s">二、今后设想和具体做法</text></g>
<g id="b5-s3" class="f5"><rect x="321" y="3888" width="141" height="26"/><text x="328" y="3905.5" class="s">三、恢复自信，培养意志</text></g>
<g id="b5-d1" class="f5"><rect x="51" y="3487" width="247" height="71"/><text x="60" y="3504" class="s"><tspan x="60">在单词读音和拼写方面，根据音标和读音规则</tspan><tspan x="60" dy="15.3">认读和拼写单词，提高复习旧词带动学习新词</tspan><tspan x="60" dy="15.3">的自学能力。在词汇和句型方面:保持初中常</tspan><tspan x="60" dy="15.3">用单词、词组、习语和句型的适当的再现率。</tspan></text></g>
<g id="b5-d2" class="f5"><rect x="51" y="3585" width="247" height="102"/><text x="60" y="3602" class="s"><tspan x="60">另外，应设法把初中阶段"只作理解"的一些词</tspan><tspan x="60" dy="15.3">汇上升到高中阶段的"熟练掌握"。在基础语法</tspan><tspan x="60" dy="15.3">方面：分别对①简单句的五种基本类型②动词</tspan><tspan x="60" dy="15.3">不定式③被动语态④状语从句和宾语从句⑤直</tspan><tspan x="60" dy="15.3">接引语和间接引语⑥常用的八种时态等，做到</tspan><tspan x="60" dy="15.3">既系统地理清网络，又集中地复习运用。</tspan></text></g>
<g id="b5-e1" class="f5"><rect x="51" y="3714" width="247" height="148"/><text x="60" y="3731" class="s"><tspan x="60">多次的挫折和失败，害怕老师的批评是焦虑感</tspan><tspan x="60" dy="15.3">产生的主要原因。为了排除这种焦虑心理，我</tspan><tspan x="60" dy="15.3">们要学生付出了极大的耐心、宽容心和同情心</tspan><tspan x="60" dy="15.3">，帮助他们分析成绩不理想的原因，然后对症</tspan><tspan x="60" dy="15.3">下药，找到改进方法，取得进步，逐步恢复自</tspan><tspan x="60" dy="15.3">信，同时也严格要求他们;帮他们制订阶段性</tspan><tspan x="60" dy="15.3">目标，每天规定学习任务，并及时检查，以防</tspan><tspan x="60" dy="15.3">止"三天打鱼，两天晒网"的现象发出，还让他</tspan><tspan x="60" dy="15.3">们互相监督，逐步培养，磨练意志。</tspan></text></g>
<g id="b5-e2" class="f5"><rect x="51" y="3888" width="247" height="87"/><text x="60" y="3905" class="s"><tspan x="60">一般来说，学生都很重视老师对他们的态度。</tspan><tspan x="60" dy="15.3">"亲其师而信其道"作为英语教师就得有强大的</tspan><tspan x="60" dy="15.3">亲和力，因此我时刻提醒自己要通过学习来增</tspan><tspan x="60" dy="15.3">强自己的人格魅力，同时要求自己公开公正地</tspan><tspan x="60" dy="15.3">处理学生问题，热爱每位学生。</tspan></text></g>
<g id="b5-e3" class="f5"><rect x="63" y="4002" width="235" height="26"/><text x="72" y="4019.5" class="s">我们相信，只要不放弃，我们会有进步的。</text></g>

<!-- Branch 2 -->
<g id="branch2"><rect x="1506" y="1555" width="190" height="34" fill="#f26a21"/><text x="1601" y="1577.5" class="L" text-anchor="middle" fill="#fff">学期末高一英语教学总结2</text></g>
<g id="b2-a" class="f2"><rect x="1720" y="1224" width="248" height="148"/><text x="1729" y="1241" class="s"><tspan x="1729">一年来，严格遵守《中小学教师职业道德规范</tspan><tspan x="1729" dy="15.3">》要求，落实教育局和学校工作部署，以重实</tspan><tspan x="1729" dy="15.3">际，抓实事，求实效为教学工作的基本原则，</tspan><tspan x="1729" dy="15.3">以培养学生创新精神和实践能力为重点，以新</tspan><tspan x="1729" dy="15.3">课程改革为契机，深化课堂教学改革，认真落</tspan><tspan x="1729" dy="15.3">实课程计划，落实教学常规，落实教学改革措</tspan><tspan x="1729" dy="15.3">施，大力推进素养教育，使所任班级教学质量</tspan><tspan x="1729" dy="15.3">有了大面积提高，现就将一年以来工作情况总</tspan><tspan x="1729" dy="15.3">结如下：</tspan></text></g>
<g id="b2-b" class="f2"><rect x="1720" y="1787" width="248" height="117"/><text x="1729" y="1804" class="s"><tspan x="1729">作为教师，应该明白任何学生都会同时存在优</tspan><tspan x="1729" dy="15.3">点和缺点两方面，对优生的优点是显而易见的</tspan><tspan x="1729" dy="15.3">，对后进生则易于发现其缺点，尤其是在学习</tspan><tspan x="1729" dy="15.3">上后进的学生，往往得不到老师的肯定，而后</tspan><tspan x="1729" dy="15.3">进生转化成功与否，直接影响着全班学生的整</tspan><tspan x="1729" dy="15.3">体成绩。所以，一年来，我一直注重从以下几</tspan><tspan x="1729" dy="15.3">方面抓好后进生转化工作：</tspan></text></g>
<g id="b2-a1" class="f2"><rect x="1991" y="906" width="247" height="87"/><text x="2000" y="923" class="s"><tspan x="2000">一、加强学习，提高思想认识，树立新的理念</tspan><tspan x="2000" dy="15.3">。坚持每周的政治学习和业务学习，紧紧围绕</tspan><tspan x="2000" dy="15.3">学习新课程，构建新课程，尝试新教法的目标</tspan><tspan x="2000" dy="15.3">，不断更新教学观念。注重把学习新课程标准</tspan><tspan x="2000" dy="15.3">与构建新理念有机的结合起来。</tspan></text></g>
<g id="b2-a2" class="f2"><rect x="1991" y="1020" width="247" height="117"/><text x="2000" y="1037" class="s"><tspan x="2000">二、教学工作教学工作是学校各项工作的中心</tspan><tspan x="2000" dy="15.3">，也是检验一个教师工作成败的关键。一年来</tspan><tspan x="2000" dy="15.3">，在坚持抓好新课程理念学习和应用的同时，</tspan><tspan x="2000" dy="15.3">我积极探究教育教学规律，充分运用学校现有</tspan><tspan x="2000" dy="15.3">的教育教学资源，大胆改革课堂教学，加大新</tspan><tspan x="2000" dy="15.3">型教学方法使用力度，取得了明显效果，具体</tspan><tspan x="2000" dy="15.3">表现在：</tspan></text></g>
<g id="b2-a3" class="f2"><rect x="1991" y="1379" width="152" height="26"/><text x="2000" y="1396.5" class="s">一、发挥教师为主导的作用</text></g>
<g id="b2-a4" class="f2"><rect x="1991" y="1633" width="140" height="26"/><text x="2000" y="1650.5" class="s">二、做好后进生转化工作</text></g>
<g id="b2-p1" class="f2"><rect x="2166" y="1164" width="247" height="87"/><text x="2175" y="1181" class="s"><tspan x="2175">1、备课深入细致。平时认真研究教材，多方</tspan><tspan x="2175" dy="15.3">参阅各种资料，力求深入理解教材，准确把握</tspan><tspan x="2175" dy="15.3">难重点。在制定教学目的时，非常注意学生的</tspan><tspan x="2175" dy="15.3">实际情况。教案编写认真，并不断归纳总结经</tspan><tspan x="2175" dy="15.3">验教训。</tspan></text></g>
<g id="b2-p2" class="f2"><rect x="2166" y="1277" width="247" height="71"/><text x="2175" y="1294" class="s"><tspan x="2175">2、注重课堂教学效果。针对学生特点，以愉</tspan><tspan x="2175" dy="15.3">快式教学为主，不搞满堂灌，坚持学生为主体</tspan><tspan x="2175" dy="15.3">，教师为主导、教学为主线，注重讲练结合。</tspan><tspan x="2175" dy="15.3">在教学中注意抓住重点，突破难点。</tspan></text></g>
<g id="b2-p3" class="f2"><rect x="2166" y="1375" width="247" height="148"/><text x="2175" y="1392" class="s"><tspan x="2175">3、坚持参加校内外教学研讨活动，不断汲取</tspan><tspan x="2175" dy="15.3">他人的宝贵经验，提高自己的教学水平。经常</tspan><tspan x="2175" dy="15.3">向经验丰富的教师请教并经常在一起讨论教学</tspan><tspan x="2175" dy="15.3">问题。听公开课多次，自己执教两节公开课。</tspan><tspan x="2175" dy="15.3">尤其本学期，自己执教的公开课得到了学校领</tspan><tspan x="2175" dy="15.3">导和教师们的肯定，同时也给我提出了不少宝</tspan><tspan x="2175" dy="15.3">贵的建议，使我明确了今后讲课的方向和以后</tspan><tspan x="2175" dy="15.3">语文课该怎么教和怎么讲。本年度在校内听课</tspan><tspan x="2175" dy="15.3">六十多节。</tspan></text></g>
<g id="b2-p4" class="f2"><rect x="2166" y="1550" width="247" height="56"/><text x="2175" y="1567" class="s"><tspan x="2175">4、在作业批改上，认真及时，力求做到全批</tspan><tspan x="2175" dy="15.3">全改，重在订正，及时了解学生的学习情况，</tspan><tspan x="2175" dy="15.3">以便在辅导中做到有的放矢。</tspan></text></g>
<g id="b2-q1" class="f2"><rect x="1991" y="1684" width="247" height="56"/><text x="2000" y="1701" class="s"><tspan x="2000">1、用进展的观点看学生。应当纵向地看到:</tspan><tspan x="2000" dy="15.3">后进生的今天比他的昨天好，即使不然，也应</tspan><tspan x="2000" dy="15.3">相信他的明天会比今天好。</tspan></text></g>
<g id="b2-q2" class="f2"><rect x="1991" y="1767" width="247" height="102"/><text x="2000" y="1784" class="s"><tspan x="2000">2、因势利导，化消极因素为积极因素。首先</tspan><tspan x="2000" dy="15.3">帮助后进生找到优、缺点，以发扬优点，克服</tspan><tspan x="2000" dy="15.3">缺点。其次以平常的心态对待：后进生也是学</tspan><tspan x="2000" dy="15.3">生，厌恶、责骂只能适得其反，他们应该享有</tspan><tspan x="2000" dy="15.3">同其它学生同样的平等和民主，也应该在稍有</tspan><tspan x="2000" dy="15.3">一点进步时得到老师的肯定。</tspan></text></g>
<g id="b2-q3" class="f2"><rect x="1991" y="1896" width="247" height="163"/><text x="2000" y="1913" class="s"><tspan x="2000">3、真正做到晓之以理，动之以情。首先做到</tspan><tspan x="2000" dy="15.3">"真诚"二字，即教师不应有丝毫虚伪与欺哄，</tspan><tspan x="2000" dy="15.3">一旦学生发现"有假"，那么教师所做的一切都</tspan><tspan x="2000" dy="15.3">会被看作是在"演戏"。其次做到"接受"，即能</tspan><tspan x="2000" dy="15.3">感受后进生在学习过程中的各种心理表现和看</tspan><tspan x="2000" dy="15.3">法，如对学习的畏惧、犹豫、满足、冷漠、错</tspan><tspan x="2000" dy="15.3">误的想法和指责等，信任他们，鼓舞他们自由</tspan><tspan x="2000" dy="15.3">讨论。最后做到"理解"二字，即通过学生的眼</tspan><tspan x="2000" dy="15.3">睛看事物。因为做到了以上几点，所以我在后</tspan><tspan x="2000" dy="15.3">进生转化工作上，效果还是明显的。</tspan></text></g>
<g id="b2-q4" class="f2"><rect x="2262" y="1896" width="247" height="163"/><text x="2271" y="1913" class="s"><tspan x="2271">教育工作，是一项常做常新，永无止境的工作</tspan><tspan x="2271" dy="15.3">。一份春华，一份秋实，在教书育人的道路上</tspan><tspan x="2271" dy="15.3">我付出的是辛勤的汗水和真挚的泪水，然而我</tspan><tspan x="2271" dy="15.3">收获的却是那一份份充实，那沉甸甸的情感。</tspan><tspan x="2271" dy="15.3">我用我的心去教诲我的学生，我用我的情去培</tspan><tspan x="2271" dy="15.3">育我的学生，我无愧于我心，我无悔于我的事</tspan><tspan x="2271" dy="15.3">业。让我把一生矢志教育的心愿化为热爱学生</tspan><tspan x="2271" dy="15.3">的一团火，将自己最珍贵的爱奉献给孩子们，</tspan><tspan x="2271" dy="15.3">相信今日含苞欲放的花蕾，明日一定能盛开绚</tspan><tspan x="2271" dy="15.3">丽的花朵。</tspan></text></g>

<!-- Branch 4 -->
<g id="branch4"><rect x="1504" y="2706" width="192" height="34" fill="#c0439c"/><text x="1600" y="2728.5" class="L" text-anchor="middle" fill="#fff">学期末高一英语教学总结4</text></g>
<g id="b4-a" class="f4"><rect x="1719" y="2680" width="249" height="87"/><text x="1728" y="2697" class="s"><tspan x="1728">本学期，本人继续担任高一(4)(5)(6)的英语教</tspan><tspan x="1728" dy="15.3">学工作。在这个学期中，本人积极配合学校及</tspan><tspan x="1728" dy="15.3">年级段的工作，与各科任老师互相配合，统一</tspan><tspan x="1728" dy="15.3">教学法进度，合理安排时间，顺利完成了本期</tspan><tspan x="1728" dy="15.3">的教学任务。现将这个学期的工作总结如下：</tspan></text></g>
<g id="b4-s1" class="f4"><rect x="1991" y="2439" width="199" height="26"/><text x="2000" y="2456.5" class="s">一、按照教学常规认真开展教学工作</text></g>
<g id="b4-s2" class="f4"><rect x="1991" y="2983" width="152" height="26"/><text x="2000" y="3000.5" class="s">二、不断学习提高自身素养</text></g>
<g id="b4-l1" class="f4"><rect x="2214" y="2085" width="247" height="102"/><text x="2223" y="2102" class="s"><tspan x="2223">备课：认真钻研教材和教师教学用书，弄清楚</tspan><tspan x="2223" dy="15.3">教材的基本思想、基本概念，了解教材的结构</tspan><tspan x="2223" dy="15.3">，重点与难点，掌握知识的逻辑。积极配合新</tspan><tspan x="2223" dy="15.3">课改，并结合学生实际情况，经过高一英语组</tspan><tspan x="2223" dy="15.3">集体备课后，制作适合本校学生水平的学练案</tspan><tspan x="2223" dy="15.3">。</tspan></text></g>
<g id="b4-l2" class="f4"><rect x="2214" y="2214" width="247" height="178"/><text x="2223" y="2231" class="s"><tspan x="2223">上课：1.在新课改之初，很多学生由于习惯于</tspan><tspan x="2223" dy="15.3">传统的灌输式教学，对新课改的上课方式非常</tspan><tspan x="2223" dy="15.3">不习惯。对于这个现象，我耐心培养学生的自</tspan><tspan x="2223" dy="15.3">主学习能力，渐渐地，学生开始习惯于这种学</tspan><tspan x="2223" dy="15.3">习方式。2.教师不仅是传授学生知识，而且其</tspan><tspan x="2223" dy="15.3">上课状态也会影响学生的学习状态。每天我都</tspan><tspan x="2223" dy="15.3">保持饱满的精神，认真做好组织教学，尽可能</tspan><tspan x="2223" dy="15.3">保证上课内容丰富，充实，教态自然，讲课生</tspan><tspan x="2223" dy="15.3">动，难易适中照顾全部，并且充分调动学生的</tspan><tspan x="2223" dy="15.3">学习积极性和主观能动性，让学生多动手，多</tspan><tspan x="2223" dy="15.3">动口、，多动脑，以营造活跃的课堂气氛。</tspan></text></g>
<g id="b4-l3" class="f4"><rect x="2214" y="2418" width="247" height="87"/><text x="2223" y="2435" class="s"><tspan x="2223">考试：本学期根据学校的要求进行了多次阶段</tspan><tspan x="2223" dy="15.3">性的考试。每次考试，都能做到考试前帮助学</tspan><tspan x="2223" dy="15.3">生进行有系统的复习，考试后进行学科总结，</tspan><tspan x="2223" dy="15.3">及时查漏补缺，从中改正教学方法，也让学生</tspan><tspan x="2223" dy="15.3">调整学习方法，争取更大的进步。</tspan></text></g>
<g id="b4-l4" class="f4"><rect x="2214" y="2532" width="247" height="117"/><text x="2223" y="2549" class="s"><tspan x="2223">作业和辅导：针对学生英语基础薄弱的特点，</tspan><tspan x="2223" dy="15.3">在作业的布置方面以夯实基础为主，重点放在</tspan><tspan x="2223" dy="15.3">单词拼写、选词填空、阅读理解等，让学生能</tspan><tspan x="2223" dy="15.3">在作业中找到学习英语的成就感;批改作业时</tspan><tspan x="2223" dy="15.3">多用赞美式、鼓励性的语言予以评价。对学生</tspan><tspan x="2223" dy="15.3">的辅导方面，做到有耐心，有方法，因材施教</tspan><tspan x="2223" dy="15.3">。</tspan></text></g>
<g id="b4-l5" class="f4"><rect x="2214" y="2675" width="247" height="178"/><text x="2223" y="2692" class="s"><tspan x="2223">听课：听课是提高自身教学能力的一个好方法</tspan><tspan x="2223" dy="15.3">，尤其是对一个新老师来说，只有虚心向同行</tspan><tspan x="2223" dy="15.3">学习教学方法，吸取他们先进的教学手段，博</tspan><tspan x="2223" dy="15.3">采众长，才能更快的提高自己的英语教学水平</tspan><tspan x="2223" dy="15.3">。本学期，我积极参与学校和教研组织的各</tspan><tspan x="2223" dy="15.3">种听课、评课活动，听课的主要对象是英语组</tspan><tspan x="2223" dy="15.3">老师的课，同时也听其他老师的课。听课时，</tspan><tspan x="2223" dy="15.3">我认真做听课笔记，听完课后，通过比较自己</tspan><tspan x="2223" dy="15.3">和其他老师上课的不同，积极反思自身教学中</tspan><tspan x="2223" dy="15.3">的不足，然后将他们很多优点和长处应用到自</tspan><tspan x="2223" dy="15.3">己的课堂教学当中去，取得了较好的效果。</tspan></text></g>
<g id="b4-m1" class="f4"><rect x="2166" y="2881" width="248" height="102"/><text x="2175" y="2898" class="s"><tspan x="2175">为加强自身的业务水平，本人积极对各种教育</tspan><tspan x="2175" dy="15.3">理论进行学习，给自己充电，以便在工作中以</tspan><tspan x="2175" dy="15.3">坚实的理论作为指导，更好地进行教育教学;</tspan><tspan x="2175" dy="15.3">努力提高英语专业水平，以适应当前教育的形</tspan><tspan x="2175" dy="15.3">式。此外，我还利用业余时间认真学习电脑知</tspan><tspan x="2175" dy="15.3">识，上网查找资料，为教学服务等等。</tspan></text></g>
<g id="b4-m2" class="f4"><rect x="2166" y="3008" width="248" height="102"/><text x="2175" y="3025" class="s"><tspan x="2175">经过一学年的教学工作，我学到了很多的专业</tspan><tspan x="2175" dy="15.3">知识，也在实践中积累了一些教学经验。但是</tspan><tspan x="2175" dy="15.3">，这只是一个开始。要成为一名优秀的教师，</tspan><tspan x="2175" dy="15.3">我还有很长的路要走。在今后的工作中，我会</tspan><tspan x="2175" dy="15.3">更加努力学习提升自己的专业素，并在实践中</tspan><tspan x="2175" dy="15.3">不断总结经验。</tspan></text></g>

<!-- Related -->
<g id="related"><rect x="1506" y="3359" width="251" height="55" fill="#7e57c2"/><text x="1516" y="3380" class="L" fill="#fff"><tspan x="1516">学期末高一英语教学总结相关文章</tspan><tspan x="1516" dy="20.4">:</tspan></text></g>
<g id="rel1" class="f6"><rect x="1780" y="3137" width="197" height="26"/><text x="1790" y="3154.5" class="s">★ 学期末高中英语学科教学总结5篇</text></g>
<g id="rel2" class="f6"><rect x="1780" y="3190" width="197" height="26"/><text x="1790" y="3207.5" class="s">★ 高一英语上学期教学总结报告5篇</text></g>
<g id="rel3" class="f6"><rect x="1780" y="3242" width="206" height="26"/><text x="1790" y="3259.5" class="s">★ 2021高一英语上学期期末教学总结</text></g>
<g id="rel4" class="f6"><rect x="1780" y="3295" width="185" height="26"/><text x="1790" y="3312.5" class="s">★ 高一年级英语学科教学总结5篇</text></g>
<g id="rel5" class="f6"><rect x="1780" y="3347" width="173" height="26"/><text x="1790" y="3364.5" class="s">★ 高一英语学科组教学总结5篇</text></g>
<g id="rel6" class="f6"><rect x="1780" y="3400" width="173" height="26"/><text x="1790" y="3417.5" class="s">★ 英语教学学期末年终总结5篇</text></g>
<g id="rel7" class="f6"><rect x="1780" y="3452" width="195" height="26"/><text x="1790" y="3469.5" class="s">★ 高中英语教学工作期末总结2021</text></g>
<g id="rel8" class="f6"><rect x="1780" y="3505" width="206" height="26"/><text x="1790" y="3522.5" class="s">★ 高中英语学期末个人教学总结2021</text></g>
<g id="rel9" class="f6"><rect x="1780" y="3557" width="214" height="26"/><text x="1790" y="3574.5" class="s">★ 高一年级第二学期英语教学总结报告</text></g>
<g id="rel10" class="f6"><rect x="1780" y="3609" width="178" height="26"/><text x="1790" y="3626.5" class="s">★ 高一英语教师的教学总结模板</text></g>

<g id="watermarks">
<text class="wm" transform="translate(360 755) rotate(-30)">树图 shutu.cn</text>
<text class="wm" transform="translate(1630 725) rotate(-30)">树图 shutu.cn</text>
<text class="wm" transform="translate(360 1730) rotate(-30)">树图 shutu.cn</text>
<text class="wm" transform="translate(1630 1700) rotate(-30)">树图 shutu.cn</text>
<text class="wm" transform="translate(360 2705) rotate(-30)">树图 shutu.cn</text>
<text class="wm" transform="translate(1630 2690) rotate(-30)">树图 shutu.cn</text>
<text class="wm" transform="translate(360 3695) rotate(-30)">树图 shutu.cn</text>
<text class="wm" transform="translate(1630 3680) rotate(-30)">树图 shutu.cn</text>
</g>
</svg>
